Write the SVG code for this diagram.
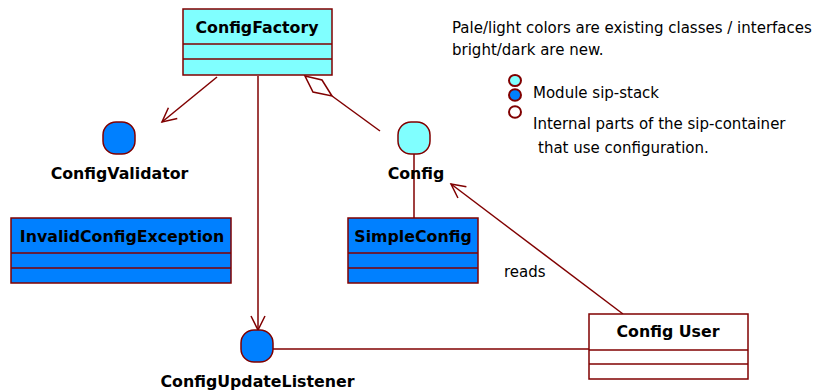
<svg xmlns="http://www.w3.org/2000/svg" width="820" height="392" viewBox="0 0 820 392">
<defs>
<marker id="arr" markerUnits="userSpaceOnUse" markerWidth="16" markerHeight="16" refX="14" refY="7" orient="auto" overflow="visible">
<path d="M0,0 L14,7 L0,14" fill="none" stroke="#800000" stroke-width="1.5"/>
</marker>
<style>
.cls{stroke:#800000;stroke-width:1.5}
.leg{stroke:#800000;stroke-width:2}
.pale{fill:#80FFFF}
.dark{fill:#0080FF}
.lbl{font-family:"DejaVu Sans",Verdana,sans-serif;font-weight:bold;font-size:15.8px;fill:#000;text-anchor:middle}
.txt{font-family:"DejaVu Sans",Verdana,sans-serif;font-size:15px;fill:#000}
.ln{stroke:#800000;stroke-width:1.5;fill:none}
</style>
</defs>
<rect width="820" height="392" fill="#fff"/>
<g id="connectors">
<line class="ln" x1="217" y1="77" x2="162" y2="122" marker-end="url(#arr)"/>
<line class="ln" x1="258" y1="76" x2="258" y2="330" marker-end="url(#arr)"/>
<path class="ln" d="M305,76 L322,80 L332,96 L313,92 Z"/>
<line class="ln" x1="332" y1="96" x2="380" y2="131"/>
<line class="ln" x1="414" y1="154" x2="414" y2="218"/>
<line class="ln" x1="623" y1="314" x2="451" y2="184" marker-end="url(#arr)"/>
<line class="ln" x1="273" y1="349" x2="589" y2="349"/>
<text class="txt" x="504" y="277">reads</text>
</g>
<g id="ConfigFactory">
<rect class="cls pale" x="183" y="9" width="149" height="66"/>
<line class="cls" x1="183" y1="44" x2="332" y2="44"/>
<line class="cls" x1="183" y1="59" x2="332" y2="59"/>
<text class="lbl" x="257" y="33">ConfigFactory</text>
</g>
<g id="ConfigValidator">
<rect class="cls dark" x="103" y="122" width="32" height="32" rx="13"/>
<text class="lbl" x="119.5" y="179">ConfigValidator</text>
</g>
<g id="Config">
<rect class="cls pale" x="398" y="122" width="32" height="32" rx="13"/>
<text class="lbl" x="416" y="179">Config</text>
</g>
<g id="InvalidConfigException">
<rect class="cls dark" x="11" y="218" width="220" height="65"/>
<line class="cls" x1="11" y1="253" x2="231" y2="253"/>
<line class="cls" x1="11" y1="268" x2="231" y2="268"/>
<text class="lbl" x="122" y="242">InvalidConfigException</text>
</g>
<g id="SimpleConfig">
<rect class="cls dark" x="348" y="218" width="130" height="65"/>
<line class="cls" x1="348" y1="253" x2="478" y2="253"/>
<line class="cls" x1="348" y1="268" x2="478" y2="268"/>
<text class="lbl" x="413" y="242">SimpleConfig</text>
</g>
<g id="ConfigUpdateListener">
<rect class="cls dark" x="241" y="330" width="32" height="32" rx="13"/>
<text class="lbl" x="257.5" y="387">ConfigUpdateListener</text>
</g>
<g id="ConfigUser">
<rect class="cls" fill="#fff" x="589" y="314" width="159" height="65"/>
<line class="cls" x1="589" y1="350" x2="748" y2="350"/>
<line class="cls" x1="589" y1="364" x2="748" y2="364"/>
<text class="lbl" x="668" y="337">Config User</text>
</g>
<g id="legend">
<text class="txt" x="452" y="33">Pale/light colors are existing classes / interfaces</text>
<text class="txt" x="452" y="55">bright/dark are new.</text>
<ellipse class="leg pale" cx="515" cy="80.5" rx="6" ry="5.5"/>
<ellipse class="leg dark" cx="515" cy="95" rx="6" ry="5.8"/>
<ellipse class="leg" fill="#fff" cx="515" cy="112" rx="6" ry="5.8"/>
<text class="txt" x="533" y="98">Module sip-stack</text>
<text class="txt" x="533" y="129">Internal parts of the sip-container</text>
<text class="txt" x="538" y="153">that use configuration.</text>
</g>
</svg>
